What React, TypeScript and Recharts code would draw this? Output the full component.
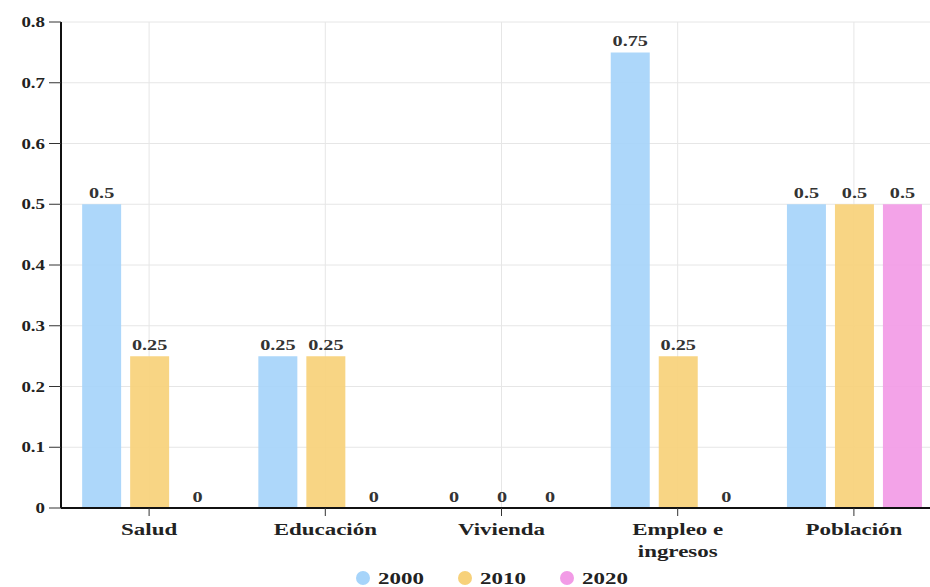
import React from "react";
import { Bar, BarChart, CartesianGrid, LabelList, Legend, XAxis, YAxis } from "recharts";

const categories = ["Salud", "Educación", "Vivienda", "Empleo e\ningresos", "Población"];
const values2000 = [0.5, 0.25, 0, 0.75, 0.5];
const values2010 = [0.25, 0.25, 0, 0.25, 0.5];
const values2020 = [0, 0, 0, 0, 0.5];
const yTicks = [0, 0.1, 0.2, 0.3, 0.4, 0.5, 0.6, 0.7, 0.8];

const SERIES = [
  { key: "2000", color: "#a6d4fa" },
  { key: "2010", color: "#f7d17a" },
  { key: "2020", color: "#f29be6" },
];

const FONT = '"Liberation Serif", "Times New Roman", serif';
const SX = 1.35;

const data = categories.map((name, i) => ({
  name,
  "2000": values2000[i],
  "2010": values2010[i],
  "2020": values2020[i],
}));

function Stretched({ x, y, size, anchor = "middle", fill = "#222", children }: any) {
  return (
    <text
      x={0}
      y={0}
      transform={`translate(${x},${y}) scale(${SX},1)`}
      textAnchor={anchor}
      fontFamily={FONT}
      fontWeight="bold"
      fontSize={size}
      fill={fill}
    >
      {children}
    </text>
  );
}

function YTick({ x, y, payload }: any) {
  return (
    <Stretched x={x - 2} y={y + 5} size={14} anchor="end">
      {String(payload.value)}
    </Stretched>
  );
}

function XTick({ x, y, payload }: any) {
  const lines = String(payload.value).split("\n");
  return (
    <g>
      {lines.map((line, i) => (
        <Stretched key={i} x={x} y={y + 17 + i * 22} size={17}>
          {line}
        </Stretched>
      ))}
    </g>
  );
}

// zero-valued bars get a 1px stub (hidden under the axis line) so their "0" label still shows
function ValueLabel({ x, y, width, height, value }: any) {
  const top = Math.min(y, y + height);
  return (
    <Stretched x={x + width / 2} y={value === 0 ? top - 5 : top - 6} size={15} fill="#333">
      {String(value)}
    </Stretched>
  );
}

function LegendRow() {
  return (
    <svg width={290} height={24}>
      {SERIES.map((s, i) => (
        <g key={s.key} transform={`translate(${i * 102},0)`}>
          <circle cx={8} cy={12} r={7} fill={s.color} />
          <Stretched x={23} y={18} size={17} anchor="start">
            {s.key}
          </Stretched>
        </g>
      ))}
    </svg>
  );
}

export default function App() {
  return (
    <div style={{ position: "absolute", top: 0, left: 0, width: 930, height: 587, overflow: "hidden", background: "#fff" }}>
      <BarChart
        width={942}
        height={587}
        data={data}
        margin={{ top: 22, right: 0, bottom: 0, left: 0 }}
        barCategoryGap="12%"
        barGap={9}
      >
        <CartesianGrid stroke="#e6e6e6" />
        {SERIES.map((s) => (
          <Bar
            key={s.key}
            dataKey={s.key}
            fill={s.color}
            fillOpacity={0.92}
            minPointSize={1}
            isAnimationActive={false}
          >
            <LabelList dataKey={s.key} content={<ValueLabel />} />
          </Bar>
        ))}
        <XAxis
          dataKey="name"
          height={52}
          interval={0}
          axisLine={{ stroke: "#111", strokeWidth: 2 }}
          tickLine={{ stroke: "#333" }}
          tickSize={8}
          tick={<XTick />}
        />
        <YAxis
          width={61}
          domain={[0, 0.8]}
          ticks={yTicks}
          interval={0}
          axisLine={{ stroke: "#111", strokeWidth: 2 }}
          tickLine={{ stroke: "#333" }}
          tickSize={12}
          tick={<YTick />}
        />
        <Legend
          verticalAlign="bottom"
          height={27}
          wrapperStyle={{ left: 355, width: 290, bottom: -6 }}
          content={<LegendRow />}
        />
      </BarChart>
    </div>
  );
}
